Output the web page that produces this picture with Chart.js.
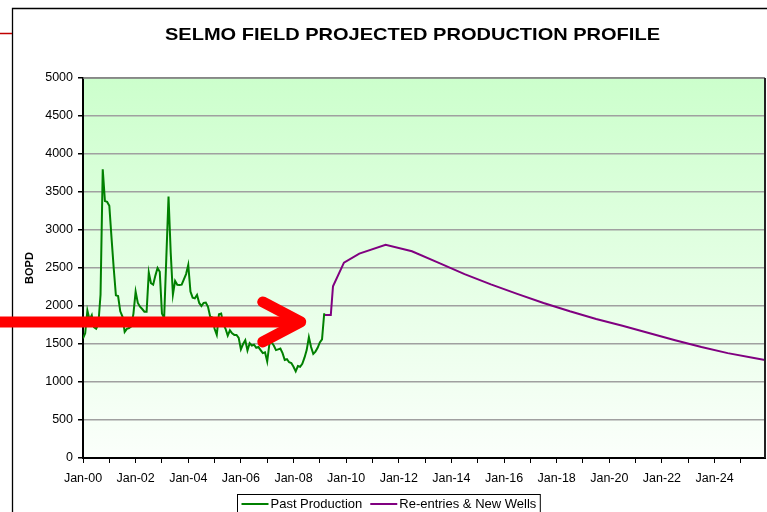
<!DOCTYPE html>
<html>
<head>
<meta charset="utf-8">
<title>Selmo Field</title>
<script src="https://cdn.jsdelivr.net/npm/chart.js@4.4.0/dist/chart.umd.min.js"></script>
<style>
  html, body { margin: 0; padding: 0; background: #fff; overflow: hidden; }
  #wrap { position: absolute; left: 0; top: 0; width: 830px; height: 540px; }
</style>
</head>
<body>
<div id="wrap"><canvas id="prodChart" width="830" height="540"></canvas></div>
<script>
// x values are months counted from Jan-00
var pastStartMonth = 0
var pastValues = [
  1575, 1640, 1940, 1820, 1880, 1720, 1700, 1760, 2150, 3800, 3380, 3370,
  3320, 2900, 2500, 2140, 2130, 1930, 1860, 1660, 1700, 1710, 1730, 1900,
  2190, 2040, 1990, 1960, 1925, 1925, 2440, 2300, 2280, 2400, 2500, 2450,
  1900, 1840, 2640, 3440, 2700, 2150, 2330, 2280, 2275, 2280, 2350, 2420,
  2540, 2190, 2110, 2100, 2145, 2040, 2000, 2040, 2045, 1990, 1860, 1850,
  1700, 1620, 1890, 1900, 1760, 1700, 1610, 1680, 1640, 1620, 1620, 1580,
  1430, 1500, 1550, 1415, 1510, 1480, 1490, 1450, 1460, 1420, 1380, 1390,
  1270, 1500, 1520, 1480, 1420, 1430, 1440, 1380, 1290, 1300, 1260, 1250,
  1200, 1140, 1210, 1200, 1240, 1320, 1420, 1590, 1460, 1370, 1400, 1450,
  1520, 1560, 1905
]
var projMonths = [110, 113, 114, 119, 126, 138, 150, 162, 174, 186, 198, 210, 222, 234, 246, 258, 270, 282, 294, 306, 311]
var projValues = [1880, 1880, 2260, 2570, 2690, 2805, 2720, 2570, 2420, 2285, 2160, 2040, 1930, 1830, 1740, 1645, 1550, 1460, 1380, 1315, 1290]
var xTickLabels = ['Jan-00', 'Jan-02', 'Jan-04', 'Jan-06', 'Jan-08', 'Jan-10', 'Jan-12',
                   'Jan-14', 'Jan-16', 'Jan-18', 'Jan-20', 'Jan-22', 'Jan-24']
var seriesNames = ['Past Production', 'Re-entries & New Wells']
var titleText = 'SELMO FIELD PROJECTED PRODUCTION PROFILE'

var FONT = "'Liberation Sans', Arial, sans-serif"

var pastPoints = pastValues.map(function (v, i) { return { x: pastStartMonth + i, y: v } })
var projPoints = projValues.map(function (v, i) { return { x: projMonths[i], y: v } })

// background, frame, plot border, title, legend and the red markings
var decor = {
  id: 'decor',
  beforeDraw: function (chart) {
    var ctx = chart.ctx, a = chart.chartArea
    ctx.save()
    var g = ctx.createLinearGradient(0, a.top, 0, a.bottom)
    g.addColorStop(0, '#ccffcc')
    g.addColorStop(1, '#fbfffb')
    ctx.fillStyle = g
    ctx.fillRect(a.left, a.top, a.right - a.left, a.bottom - a.top)
    ctx.restore()
  },
  afterDraw: function (chart) {
    var ctx = chart.ctx, a = chart.chartArea
    ctx.save()
    // outer frame
    ctx.strokeStyle = '#000'
    ctx.lineWidth = 1.3
    ctx.beginPath()
    ctx.moveTo(12.5, 1000); ctx.lineTo(12.5, 8.5); ctx.lineTo(1000, 8.5)
    ctx.stroke()
    // plot top / right border
    ctx.strokeStyle = '#7f7f7f'
    ctx.lineWidth = 1.5
    ctx.beginPath(); ctx.moveTo(a.left, a.top); ctx.lineTo(a.right, a.top); ctx.stroke()
    ctx.strokeStyle = '#222'
    ctx.lineWidth = 2
    ctx.beginPath(); ctx.moveTo(a.right, a.top); ctx.lineTo(a.right, a.bottom); ctx.stroke()

    // title
    ctx.fillStyle = '#000'
    ctx.font = 'bold 17px ' + FONT
    ctx.textBaseline = 'alphabetic'
    ctx.textAlign = 'left'
    var w = ctx.measureText(titleText).width
    var sx = 495 / w
    ctx.save()
    ctx.translate(412.5 - 495 / 2, 39.5)
    ctx.scale(sx, 1)
    ctx.fillText(titleText, 0, 0)
    ctx.restore()

    // legend
    ctx.font = '13px ' + FONT
    var x = 237.5, top = 494.5, ly = 504
    var items = chart.data.datasets
    var total = 4
    items.forEach(function (d) { total += 27 + 3 + ctx.measureText(d.label).width + 8 })
    ctx.fillStyle = '#fff'
    ctx.fillRect(x, top, total - 6, 40)
    ctx.strokeStyle = '#000'
    ctx.lineWidth = 1
    ctx.strokeRect(x, top, total - 6, 40)
    var cx = x + 4
    ctx.textBaseline = 'middle'
    items.forEach(function (d) {
      ctx.strokeStyle = d.borderColor
      ctx.lineWidth = 2
      ctx.beginPath(); ctx.moveTo(cx, ly); ctx.lineTo(cx + 27, ly); ctx.stroke()
      cx += 29
      ctx.fillStyle = '#000'
      ctx.fillText(d.label, cx, ly)
      cx += ctx.measureText(d.label).width + 8
    })

    // red markings laid over the chart
    ctx.strokeStyle = '#c00000'
    ctx.lineWidth = 1.5
    ctx.beginPath(); ctx.moveTo(0, 33.5); ctx.lineTo(12, 33.5); ctx.stroke()

    var sxs = chart.scales.x, sys = chart.scales.y
    var tipX = sxs.getPixelForValue(99.3), tipY = sys.getPixelForValue(1790)
    ctx.strokeStyle = '#ff0000'
    ctx.lineWidth = 11
    ctx.lineCap = 'round'
    ctx.lineJoin = 'round'
    ctx.beginPath(); ctx.moveTo(-10, tipY); ctx.lineTo(tipX - 4, tipY); ctx.stroke()
    ctx.beginPath()
    ctx.moveTo(tipX - 38, tipY - 20)
    ctx.lineTo(tipX, tipY)
    ctx.lineTo(tipX - 38, tipY + 20)
    ctx.stroke()
    ctx.restore()
  }
}

var ctx = document.getElementById('prodChart').getContext('2d')
var chart = new Chart(ctx, {
  type: 'line',
  data: {
    datasets: [{
      label: seriesNames[0],
      data: pastPoints,
      borderColor: '#008000',
      borderWidth: 2
    }, {
      label: seriesNames[1],
      data: projPoints,
      borderColor: '#800080',
      borderWidth: 2
    }]
  },
  options: {
    responsive: false,
    animation: false,
    devicePixelRatio: 1,
    layout: { padding: { left: 0, right: 65, top: 78, bottom: 52 } },
    elements: { point: { radius: 0 }, line: { tension: 0 } },
    plugins: {
      legend: { display: false },
      title: { display: false },
      tooltip: { enabled: false }
    },
    scales: {
      x: {
        type: 'linear',
        min: 0,
        max: 311,
        afterFit: function (s) { s.height = 30 },
        grid: { drawOnChartArea: false, tickLength: 5, color: '#000', tickColor: '#000' },
        border: { color: '#000', width: 2 },
        ticks: {
          stepSize: 12,
          includeBounds: false,
          autoSkip: false,
          maxRotation: 0,
          padding: 8,
          color: '#000',
          font: { family: FONT, size: 12.5 },
          callback: function (v) { return v % 24 === 0 ? xTickLabels[v / 24] : '' }
        }
      },
      y: {
        min: 0,
        max: 5000,
        afterFit: function (s) { s.width = 83 },
        grid: { color: '#a0a0a0', lineWidth: 1.5, tickLength: 5, tickColor: '#000' },
        border: { color: '#000', width: 2 },
        ticks: {
          stepSize: 500,
          padding: 5,
          color: '#000',
          font: { family: FONT, size: 12.5 },
          callback: function (v) { return String(v) }
        },
        title: {
          display: true,
          text: 'BOPD',
          color: '#000',
          font: { family: FONT, size: 11, weight: 'bold' },
          padding: { top: 23, bottom: 0 }
        }
      }
    }
  },
  plugins: [decor]
})
</script>
</body>
</html>
